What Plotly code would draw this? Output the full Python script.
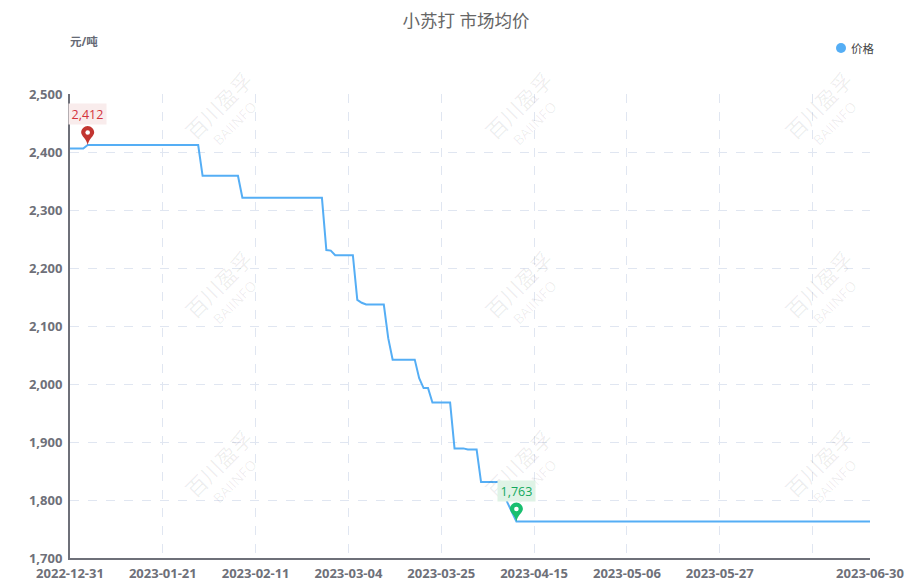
import plotly.graph_objects as go

# values
dates = ['2022-12-31', '2023-01-03', '2023-01-04', '2023-01-29', '2023-01-30', '2023-02-07',
         '2023-02-08', '2023-02-26', '2023-02-27', '2023-02-28', '2023-03-01', '2023-03-05',
         '2023-03-06', '2023-03-07', '2023-03-08', '2023-03-12', '2023-03-13', '2023-03-14',
         '2023-03-19', '2023-03-20', '2023-03-21', '2023-03-22', '2023-03-23', '2023-03-27',
         '2023-03-28', '2023-03-30', '2023-03-31', '2023-04-02', '2023-04-03', '2023-04-07',
         '2023-04-08', '2023-04-09', '2023-04-11', '2023-06-30']
prices = [2406, 2406, 2412, 2412, 2359, 2359,
          2321, 2321, 2231, 2230, 2222, 2222,
          2145, 2140, 2137, 2137, 2079, 2042,
          2042, 2010, 1993, 1993, 1968, 1968,
          1889, 1889, 1887, 1887, 1831, 1831,
          1815, 1795, 1763, 1763]

tick_dates = ['2022-12-31', '2023-01-21', '2023-02-11', '2023-03-04', '2023-03-25',
              '2023-04-15', '2023-05-06', '2023-05-27', '2023-06-17', '2023-06-30']
tick_labels = ['2022-12-31', '2023-01-21', '2023-02-11', '2023-03-04', '2023-03-25',
               '2023-04-15', '2023-05-06', '2023-05-27', '', '2023-06-30']
y_ticks = [1700, 1800, 1900, 2000, 2100, 2200, 2300, 2400, 2500]

max_date, max_price = '2023-01-04', 2412
min_date, min_price = '2023-04-11', 1763

FONT = 'Open Sans, Noto Sans CJK SC, sans-serif'
AXIS_COLOR = '#6e7079'
GRID_COLOR = '#e0e6f1'
LINE_COLOR = '#55aef5'
WATERMARK = 'rgba(0,0,0,0.07)'
W, H = 915, 585
LEFT, RIGHT, TOP, BOTTOM = 70, 870, 94, 558


# page pixels to paper coordinates
def px(x):
    return (x - LEFT) / (RIGHT - LEFT)


def py(y):
    return (BOTTOM - y) / (BOTTOM - TOP)


fig = go.Figure()
fig.add_trace(go.Scatter(x=dates, y=prices, mode='lines', name='价格', showlegend=False,
                         line=dict(color=LINE_COLOR, width=2)))

# faint repeated watermark
for cx in [219, 519, 819]:
    for cy in [106, 285, 464]:
        fig.add_annotation(text='百川盈孚', xref='paper', yref='paper', showarrow=False,
                           x=px(cx), y=py(cy), xanchor='center', yanchor='middle', textangle=-45,
                           font=dict(size=21, color=WATERMARK))
        fig.add_annotation(text='BAIINFO', xref='paper', yref='paper', showarrow=False,
                           x=px(cx + 15), y=py(cy + 17), xanchor='center', yanchor='middle',
                           textangle=-45, font=dict(size=14, color=WATERMARK))


# pin marker anchored on a data point, drawn in pixels
def add_pin(date, price, color, label, bg, text_color, shift):
    path = ('M 0 0 C -1 6 -6.5 9 -6.5 12.5 C -6.5 16 -3.5 19 0 19 '
            'C 3.5 19 6.5 16 6.5 12.5 C 6.5 9 1 6 0 0 Z')
    fig.add_shape(type='path', path=path, xsizemode='pixel', ysizemode='pixel',
                  xanchor=date, yanchor=price, fillcolor=color, line=dict(width=0))
    fig.add_shape(type='circle', xsizemode='pixel', ysizemode='pixel', xanchor=date, yanchor=price,
                  x0=-2.3, x1=2.3, y0=10.2, y1=14.8, fillcolor='white', line=dict(width=0))
    fig.add_annotation(x=date, y=price, text=label, showarrow=False, yshift=shift, width=35, height=18,
                       bgcolor=bg, font=dict(size=12.5, color=text_color, family=FONT))


add_pin(max_date, max_price, '#c23531', '2,412', '#f9ecec', '#d4323c', 31)
add_pin(min_date, min_price, '#19bf6f', '1,763', '#dff3e6', '#12a85c', 30)

fig.add_annotation(text='元/吨', xref='paper', yref='paper', showarrow=False, x=0, y=py(41),
                   xanchor='left', yanchor='middle', xshift=-2,
                   font=dict(size=11.5, color='#666a75', weight=700))

# legend entry: dot sits closer to its text than plotly's own legend allows
fig.add_shape(type='circle', xref='paper', yref='paper', xsizemode='pixel', ysizemode='pixel',
              xanchor=px(841), yanchor=py(48), x0=-5, x1=5, y0=-5, y1=5,
              fillcolor=LINE_COLOR, line=dict(width=0))
fig.add_annotation(text='价格', xref='paper', yref='paper', showarrow=False, x=px(851), y=py(48),
                   xanchor='left', yanchor='middle', xshift=-2,
                   font=dict(size=11.5, color='#444444'))

fig.update_layout(
    width=W, height=H,
    margin=dict(l=LEFT, r=W - RIGHT, t=TOP, b=H - BOTTOM),
    paper_bgcolor='white', plot_bgcolor='white',
    font=dict(family=FONT),
    showlegend=False,
    title=dict(text='小苏打 市场均价', x=466 / W, xanchor='center', y=0.965, yanchor='middle',
               font=dict(size=17.5, color='#666666')),
)
fig.update_xaxes(type='date', range=['2022-12-31', '2023-06-30'], tickmode='array',
                 tickvals=tick_dates, ticktext=tick_labels, showline=True, linecolor=AXIS_COLOR,
                 linewidth=2, showgrid=True, gridcolor=GRID_COLOR, griddash='dash', gridwidth=1,
                 zeroline=False, ticks='', tickangle=0, automargin=False, ticklabelstandoff=2,
                 tickfont=dict(size=13, color=AXIS_COLOR, weight=700))
fig.update_yaxes(range=[1700, 2500], tickmode='array', tickvals=y_ticks, tickformat=',',
                 showline=True, linecolor=AXIS_COLOR, linewidth=2, showgrid=True,
                 gridcolor=GRID_COLOR, griddash='dash', gridwidth=1, zeroline=False, ticks='',
                 automargin=False, ticklabelstandoff=3,
                 tickfont=dict(size=13, color=AXIS_COLOR, weight=700))

fig.write_html('out.html', config=dict(displayModeBar=False),
               post_script="document.body.style.margin='0';")
